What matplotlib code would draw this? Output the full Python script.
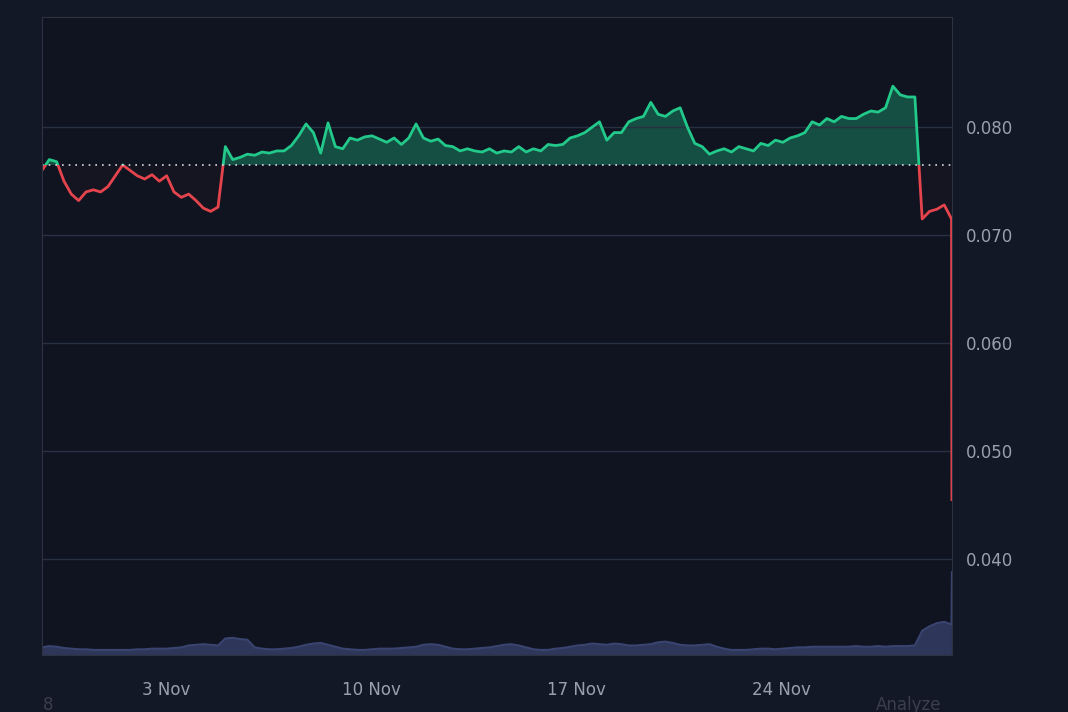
import numpy as np
import pandas as pd
import matplotlib
matplotlib.use("Agg")
import matplotlib.pyplot as plt
import matplotlib.dates as mdates
from matplotlib.patches import Rectangle

# prices every 6 hours
prices = [
    0.0760, 0.0770, 0.0768, 0.0750, 0.0738, 0.0732, 0.0740, 0.0742, 0.0740, 0.0745,
    0.0755, 0.0765, 0.0760, 0.0755, 0.0752, 0.0756, 0.0750, 0.0755, 0.0740, 0.0735,
    0.0738, 0.0732, 0.0725, 0.0722, 0.0726, 0.0782, 0.0770, 0.0772, 0.0775, 0.0774,
    0.0777, 0.0776, 0.0778, 0.0778, 0.0783, 0.0792, 0.0803, 0.0795, 0.0776, 0.0804,
    0.0782, 0.0780, 0.0790, 0.0788, 0.0791, 0.0792, 0.0789, 0.0786, 0.0790, 0.0784,
    0.0790, 0.0803, 0.0790, 0.0787, 0.0789, 0.0783, 0.0782, 0.0778, 0.0780, 0.0778,
    0.0777, 0.0780, 0.0776, 0.0778, 0.0777, 0.0782, 0.0777, 0.0780, 0.0778, 0.0784,
    0.0783, 0.0784, 0.0790, 0.0792, 0.0795, 0.0800, 0.0805, 0.0788, 0.0795, 0.0795,
    0.0805, 0.0808, 0.0810, 0.0823, 0.0812, 0.0810, 0.0815, 0.0818, 0.0800, 0.0785,
    0.0782, 0.0775, 0.0778, 0.0780, 0.0777, 0.0782, 0.0780, 0.0778, 0.0785, 0.0783,
    0.0788, 0.0786, 0.0790, 0.0792, 0.0795, 0.0805, 0.0802, 0.0808, 0.0805, 0.0810,
    0.0808, 0.0808, 0.0812, 0.0815, 0.0814, 0.0818, 0.0838, 0.0830, 0.0828, 0.0828,
    0.0715, 0.0722, 0.0724, 0.0728, 0.0715, 0.0455,
]
volume = [
    1.2, 1.4, 1.3, 1.1, 1.0, 0.9, 0.9,
    0.8, 0.8, 0.8, 0.8, 0.8, 0.8, 0.9, 0.9, 1.0, 1.0, 1.0, 1.1, 1.2,
    1.5, 1.6, 1.7, 1.6, 1.5,
    2.6, 2.7, 2.5, 2.4,
    1.2, 1.0, 0.9, 0.9, 1.0, 1.1, 1.3, 1.6,
    1.8, 1.9, 1.6, 1.3,
    1.0, 0.9, 0.8, 0.8, 0.9, 1.0, 1.0, 1.0, 1.1, 1.2, 1.3,
    1.6, 1.7, 1.6, 1.3,
    1.0, 0.9, 0.9, 1.0, 1.1, 1.2, 1.4,
    1.6, 1.7, 1.5, 1.2,
    0.9, 0.8, 0.8, 1.0, 1.1, 1.3, 1.5, 1.6,
    1.8, 1.7, 1.6, 1.8, 1.7,
    1.5, 1.5, 1.6, 1.7, 2.0, 2.1,
    1.9, 1.6, 1.5,
    1.5, 1.6, 1.7, 1.3, 1.0,
    0.8, 0.8, 0.8, 0.9, 1.0, 1.0, 0.9, 1.0, 1.1, 1.2, 1.2, 1.3, 1.3,
    1.3, 1.3, 1.3, 1.3, 1.4, 1.3, 1.3, 1.4, 1.3, 1.4, 1.4, 1.4, 1.5,
    3.8, 4.5, 5.0, 5.2, 4.8, 13.0,
]
baseline = 0.0765
y_ticks = [0.040, 0.050, 0.060, 0.070, 0.080]
x_tick_days = ["2024-11-03", "2024-11-10", "2024-11-17", "2024-11-24"]

start = pd.Timestamp("2024-10-29 18:45")
steps = [i * 6.0 for i in range(len(prices) - 1)] + [(len(prices) - 2) * 6.0 + 0.3]
times = mdates.date2num([start + pd.Timedelta(hours=h) for h in steps])
p = np.array(prices)

bg = "#0f1420"
green = "#22c98a"
red = "#e5444d"

fig = plt.figure(figsize=(10.68, 7.12), dpi=100, facecolor="#121826")
ax = fig.add_axes([0.0393, 0.080, 0.852, 0.896])
ax.set_facecolor(bg)

ax.set_xlim(times[0], times[-1])
ax.set_ylim(0.0311, 0.0902)

# volume on a hidden twin axis
vax = ax.twinx()
vax.fill_between(times, volume, 0, color="#2e3659", lw=0)
vax.plot(times, volume, color="#3a4470", lw=1.5)
vax.set_ylim(0, 100)
vax.axis("off")
ax.set_zorder(vax.get_zorder() + 1)
ax.patch.set_visible(False)
fig.patches.append(Rectangle((0.0393, 0.080), 0.852, 0.896, transform=fig.transFigure,
                             facecolor=bg, zorder=-1))

ax.fill_between(times, p, baseline, where=p >= baseline, interpolate=True,
                color=green, alpha=0.32, lw=0)
ax.fill_between(times, p, baseline, where=p < baseline, interpolate=True,
                color=red, alpha=0.025, lw=0)

up, = ax.plot(times, p, color=green, lw=2)
dn, = ax.plot(times, p, color=red, lw=2)
up.set_clip_path(Rectangle((times[0], baseline), times[-1] - times[0], 1, transform=ax.transData))
dn.set_clip_path(Rectangle((times[0], 0), times[-1] - times[0], baseline, transform=ax.transData))

ax.axhline(baseline, color="#d8dbe2", lw=1.2, ls=(0, (1, 3)))

ax.yaxis.tick_right()
ax.set_yticks(y_ticks)
ax.set_yticklabels([f"{v:.3f}" for v in y_ticks])
ax.set_xticks(mdates.date2num(pd.to_datetime(x_tick_days)))
ax.set_xticklabels(["3 Nov", "10 Nov", "17 Nov", "24 Nov"])
ax.tick_params(colors="#9aa0ab", labelsize=12, length=0, pad=10)
ax.tick_params(axis="x", pad=19)
ax.grid(axis="y", color="#283042", lw=1)
for s in ax.spines.values():
    s.set_color("#2c3242")
vax.spines[:].set_visible(False)

fig.text(0.040, 0.003, "8", color="#3a3f4b", fontsize=12)
fig.text(0.820, 0.003, "Analyze", color="#3a3f4b", fontsize=12)

fig.savefig("out.png", facecolor=fig.get_facecolor())
